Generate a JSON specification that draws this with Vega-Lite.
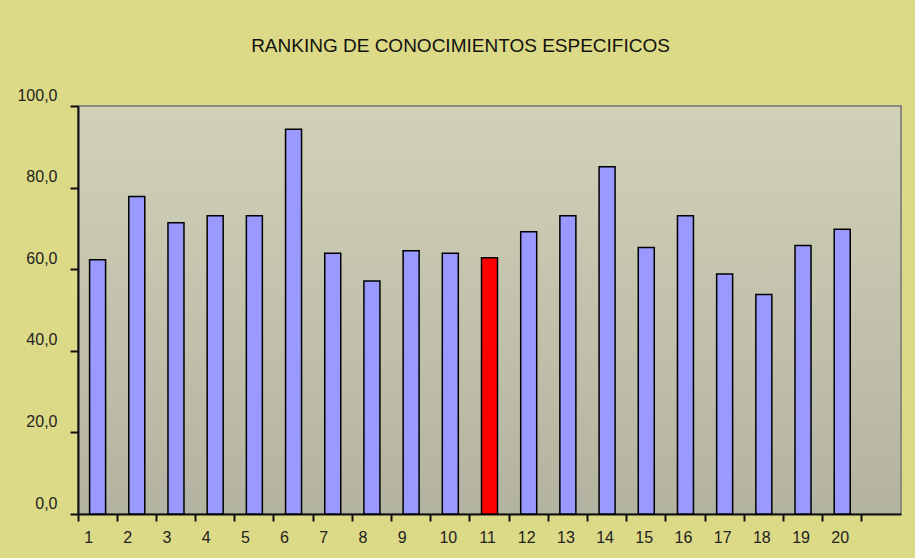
{
  "$schema": "https://vega.github.io/schema/vega-lite/v6.json",
  "width": 823,
  "height": 408,
  "autosize": "none",
  "padding": {"left": 78, "top": 106, "right": 14, "bottom": 44},
  "background": "#dcda86",
  "title": {
    "text": "RANKING DE CONOCIMIENTOS ESPECIFICOS",
    "anchor": "middle",
    "frame": "group",
    "dx": -29,
    "offset": 31,
    "font": "Liberation Sans",
    "fontSize": 19,
    "fontWeight": "normal",
    "color": "#111111"
  },
  "data": {
    "values": [
      {"posicion": 1, "puntaje": 62.3},
      {"posicion": 2, "puntaje": 77.8},
      {"posicion": 3, "puntaje": 71.4},
      {"posicion": 4, "puntaje": 73.1},
      {"posicion": 5, "puntaje": 73.1},
      {"posicion": 6, "puntaje": 94.3},
      {"posicion": 7, "puntaje": 63.9},
      {"posicion": 8, "puntaje": 57.1},
      {"posicion": 9, "puntaje": 64.5},
      {"posicion": 10, "puntaje": 63.9},
      {"posicion": 11, "puntaje": 62.8},
      {"posicion": 12, "puntaje": 69.2},
      {"posicion": 13, "puntaje": 73.1},
      {"posicion": 14, "puntaje": 85.1},
      {"posicion": 15, "puntaje": 65.3},
      {"posicion": 16, "puntaje": 73.1},
      {"posicion": 17, "puntaje": 58.8},
      {"posicion": 18, "puntaje": 53.8},
      {"posicion": 19, "puntaje": 65.8},
      {"posicion": 20, "puntaje": 69.8}
    ]
  },
  "mark": {"type": "bar", "size": 16, "stroke": "#000000", "strokeWidth": 1.5},
  "encoding": {
    "x": {
      "field": "posicion",
      "type": "ordinal",
      "title": null,
      "scale": {
        "domain": [1,2,3,4,5,6,7,8,9,10,11,12,13,14,15,16,17,18,19,20,21],
        "paddingInner": 0,
        "paddingOuter": 0
      },
      "axis": {
        "labelAngle": 0,
        "bandPosition": 0,
        "labelExpr": "datum.value == 21 ? '' : datum.label",
        "labelOffset": {"condition": {"test": "datum.value < 10", "value": -9}, "value": -2},
        "labelFont": "Liberation Sans",
        "labelFontSize": 16,
        "labelColor": "#222222",
        "labelPadding": 8,
        "labelBaseline": "top",
        "domainColor": "#111111",
        "domainWidth": 2,
        "tickColor": "#111111",
        "tickWidth": 2,
        "tickSize": 7
      }
    },
    "y": {
      "field": "puntaje",
      "type": "quantitative",
      "title": null,
      "scale": {"domain": [0, 100], "nice": false},
      "axis": {
        "values": [0, 20, 40, 60, 80, 100],
        "grid": false,
        "labelExpr": "replace(format(datum.value, '.1f'), '.', ',')",
        "labelFont": "Liberation Sans",
        "labelFontSize": 16,
        "labelColor": "#222222",
        "labelBaseline": "bottom",
        "labelOffset": -3,
        "labelPadding": 13,
        "domainColor": "#111111",
        "domainWidth": 2,
        "tickColor": "#111111",
        "tickWidth": 2,
        "tickSize": 8
      }
    },
    "color": {
      "condition": {"test": "datum.posicion == 11", "value": "#ff0000"},
      "value": "#9999ff"
    }
  },
  "config": {
    "view": {
      "fill": {
        "gradient": "linear",
        "x1": 0, "y1": 0, "x2": 0, "y2": 1,
        "stops": [
          {"offset": 0, "color": "#d2d1b8"},
          {"offset": 1, "color": "#b3b3a1"}
        ]
      },
      "stroke": "#8a8a80",
      "strokeWidth": 2
    }
  }
}
